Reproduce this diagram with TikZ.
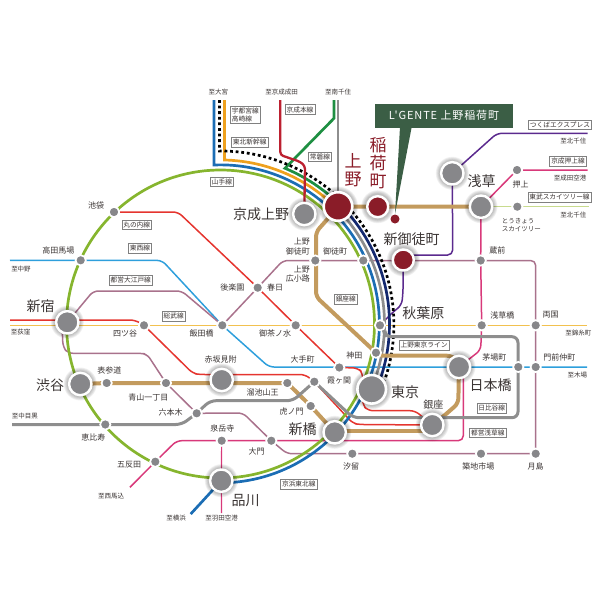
\documentclass[tikz,border=0pt]{standalone}
\usepackage{fontspec}
\setmainfont{Noto Sans CJK JP}
\newfontfamily\bannerfont[LetterSpace=8]{Noto Sans CJK JP}
\pgfdeclarelayer{lines}
\pgfdeclarelayer{glow}
\pgfsetlayers{lines,glow,main}
\definecolor{stgray}{HTML}{87878A}
\definecolor{wine}{HTML}{8A1C28}
\definecolor{txt}{HTML}{3A3433}
\definecolor{yama}{HTML}{86B52E}
\definecolor{kehin}{HTML}{1B6DB4}
\definecolor{utsu}{HTML}{EFA11E}
\definecolor{joban}{HTML}{1E8F42}
\definecolor{navy}{HTML}{14296F}
\definecolor{hibi}{HTML}{8E8E8E}
\definecolor{maru}{HTML}{E5352F}
\definecolor{chuo}{HTML}{F2C14F}
\definecolor{tozai}{HTML}{2E9FDC}
\definecolor{oedo}{HTML}{A9728C}
\definecolor{asak}{HTML}{D8397A}
\definecolor{ginz}{HTML}{C39B5E}
\definecolor{keis}{HTML}{BC2030}
\definecolor{tx}{HTML}{5B2A8E}
\definecolor{tobu}{HTML}{C8DB8E}
\definecolor{bann}{HTML}{3B5E45}
\tikzset{
  smallst/.style={circle,fill=stgray,draw=white,line width=1.7pt,minimum size=10.3pt,inner sep=0pt},
  bigst/.style={circle,fill=stgray,draw=white,line width=2.4pt,minimum size=22.4pt,inner sep=0pt},
  hugest/.style={circle,fill=stgray,draw=white,line width=2.6pt,minimum size=28.6pt,inner sep=0pt},
  redst/.style={bigst,fill=wine},
  thin line/.style={line width=1.5pt},
  fat line/.style={line width=2.7pt},
  stname/.style={inner sep=0pt,text=txt,font=\fontsize{8}{9.5}\selectfont,align=center},
  bigname/.style={inner sep=0pt,text=txt,font=\fontsize{14}{16}\selectfont},
  dest/.style={inner sep=0pt,text=txt,font=\fontsize{6.5}{7.5}\selectfont},
  linebox/.style={draw=gray,line width=.6pt,fill=white,text=txt,inner xsep=1.5pt,inner ysep=1.3pt,
     minimum height=9.8pt,font=\fontsize{6.7}{8}\selectfont,align=left},
  redname/.style={inner sep=0pt,text=wine,font=\fontsize{17}{19}\selectfont}
}
\newcounter{lb}
\newcommand\stn[3]{\stepcounter{lb}\node[stname] (t\number\value{lb}) at (#1,#2) {#3};}
\newcommand\bign[3]{\stepcounter{lb}\node[bigname] (t\number\value{lb}) at (#1,#2) {#3};}
\newcommand\dst[3]{\stepcounter{lb}\node[dest] (t\number\value{lb}) at (#1,#2) {#3};}
\newcommand\lbx[3]{\stepcounter{lb}\node[linebox] (t\number\value{lb}) at (#1,#2) {#3};}
\begin{document}
\begin{tikzpicture}[x=1pt,y=-1pt]
\useasboundingbox (0,0) rectangle (600,600);
\coordinate (ring) at (220.5,324);

% big stations
\node[hugest,fill=wine] (ueno) at (338,206.5) {};
\node[redst,minimum size=21pt] (inari) at (377.7,206.7) {};
\node[redst,minimum size=21pt] (shinoka) at (403.3,260) {};
\node[bigst] (keisei) at (304.3,214) {};
\node[bigst] (asakusa) at (452.3,173.3) {};
\node[bigst] (asakusab) at (481,206.7) {};
\node[bigst] (shinjuku) at (67.3,322.3) {};
\node[bigst] (shibuya) at (80.3,384) {};
\node[bigst] (akasaka) at (221.7,380) {};
\node[bigst] (shimbashi) at (334.7,432.3) {};
\node[hugest] (tokyo) at (371.7,389.3) {};
\node[bigst] (ginza) at (432.3,425) {};
\node[bigst] (nihombashi) at (459,367) {};
\node[bigst] (shinagawa) at (221.3,480.7) {};
% small stations
\node[smallst] (ikebukuro) at (114,212) {};
\node[smallst] (takada) at (80.7,260.3) {};
\node[smallst] (yotsuya) at (144,325.3) {};
\node[smallst] (omote) at (106.7,383) {};
\node[smallst] (aoyama) at (166,383) {};
\node[smallst] (roppongi) at (196.7,413.3) {};
\node[smallst] (ebisu) at (105.3,424.5) {};
\node[smallst] (gotanda) at (155.3,461.7) {};
\node[smallst] (sengaku) at (221.7,440.7) {};
\node[smallst] (daimon) at (271.3,440.7) {};
\node[smallst] (shiodome) at (352.3,453.7) {};
\node[smallst] (torano) at (310.7,406) {};
\node[smallst] (kasumi) at (314.3,381.7) {};
\node[smallst] (tameike) at (287.3,383) {};
\node[smallst] (otemachi) at (339.3,367.5) {};
\node[smallst] (kanda) at (376,352.7) {};
\node[smallst] (akiba) at (380,325.3) {};
\node[smallst] (ochano) at (295.7,325.3) {};
\node[smallst] (iidabashi) at (222.3,325.3) {};
\node[smallst] (kasuga) at (257.7,287.7) {};
\node[smallst] (uenookachi) at (315.3,260.5) {};
\node[smallst] (okachi) at (363.3,260.5) {};
\node[smallst] (kuramae) at (480.7,260.5) {};
\node[smallst] (oshiage) at (517,170) {};
\node[smallst] (skytree) at (517.3,206.7) {};
\node[smallst] (asabashi) at (481.7,325.3) {};
\node[smallst] (ryogoku) at (535.7,325.3) {};
\node[smallst] (kayaba) at (518.3,367) {};
\node[smallst] (monzen) at (535.7,367) {};
\node[smallst] (tsukiji) at (481,453.7) {};
\node[smallst] (tsukishima) at (535.7,453.7) {};

% free ends
\coordinate (eOgikubo) at (10,320);
\coordinate (eOgikuboY) at (10,325.3);
\coordinate (eNakano) at (10,260.4);
\coordinate (eKinshi) at (587,325.3);
\coordinate (eKiba) at (587,367);
\coordinate (eNaka) at (12,424.5);
\coordinate (eMago) at (130,487.3);
\coordinate (eHaneda) at (221.5,513);
\coordinate (eYoko) at (190.7,514);
\coordinate (eTx) at (587.7,133.3);
\coordinate (eOshi) at (587.7,170);
\coordinate (eTobu) at (589,206.7);

\begin{pgfonlayer}{lines}
% thin lines
\draw[thin line,chuo] (eOgikuboY) -- (yotsuya.center) -- (iidabashi.center) -- (ochano.center) -- (akiba.center) -- (asabashi.center) -- (ryogoku.center) -- (eKinshi);
\draw[thin line,tozai,rounded corners=5pt] (eNakano) -- (takada.center) -- (162,260.4) -- (iidabashi.center) -- (269,367) -- (kayaba.center) -- (monzen.center) -- (eKiba);
\draw[thin line,oedo,rounded corners=5pt] (shinjuku.center) -- (93.3,291) -- (181.7,291) -- (iidabashi.center);
\draw[thin line,oedo,rounded corners=5pt] (iidabashi.center) -- (kasuga.center) -- (283,260.5) -- (uenookachi.center) -- (okachi.center) -- (kuramae.center) -- (535.7,260.5) -- (ryogoku.center) -- (monzen.center) -- (tsukishima.center) -- (tsukiji.center) -- (shiodome.center) -- (287,453.7) -- (daimon.center);
\draw[thin line,oedo,rounded corners=5pt] (daimon.center) -- (243,413) -- (roppongi.center) -- (aoyama.center) -- (147,354) -- (140,353.3) -- (68,353.3) -- (63,347) -- (62,325);
\draw[thin line,asak,rounded corners=5pt] (eMago) -- (gotanda.center) -- (176.7,440.7) -- (sengaku.center) -- (daimon.center) -- (463.3,440.7) -- (463.3,367);
\draw[thin line,asak,rounded corners=5pt] (nihombashi.center) -- (480.7,350) -- (asabashi.center) -- (kuramae.center) -- (asakusab.center);
\draw[thin line,asak,rounded corners=5pt] (asakusab.center) -- (oshiage.center) -- (eOshi);
\draw[thin line,asak,line width=1.2pt] (sengaku.center) -- (shinagawa.center) -- (eHaneda);
\draw[thin line,tobu] (asakusab.center) -- (skytree.center) -- (eTobu);
\draw[thin line,tx,rounded corners=5pt] (eTx) -- (497,133.3) -- (asakusa.center) -- (452.7,255) -- (403,255);
\draw[thin line,tx,rounded corners=5pt] (shinoka.center) -- (403,292) -- (401.7,305) -- (392,313) -- (akiba.center);
\draw[thin line,maru,rounded corners=5pt] (ikebukuro.center) -- (178,212) -- (kasuga.center) -- (ochano.center) -- (otemachi.center) -- (358,368) -- (362.7,373) -- (362.7,405) -- (368,410.7) -- (415,410.7) -- (ginza.center);
\draw[thin line,maru,rounded corners=5pt] (eOgikubo) -- (135,320) -- (yotsuya.center) -- (193,373.5) -- (200,374.5) -- (305,374.5) -- (kasumi.center) -- (353,423.5) -- (360,424.5) -- (ginza.center);
% ring
\draw[fat line,yama] (ring) circle[radius=154];
\draw[fat line,kehin] (214,100) -- (214,165) arc[start angle=-92.3,end angle=90,radius=159] -- (shinagawa.center) -- (eYoko);
\draw[fat line,utsu] (224.5,100) -- (224.5,160) arc[start angle=-88.6,end angle=-45,radius=164];
\draw[fat line,hibi] (338,100) -- (ueno.center);
\draw[fat line,hibi] ([shift={(ring)}]-45:164) arc[start angle=-45,end angle=23,radius=164];
\draw[fat line,navy] ([shift={(ring)}]-45:169) arc[start angle=-45,end angle=18.7,radius=169];
\draw[fat line,joban] (334,100) -- (334,118.3) -- (285,168.3) arc[start angle=-67.5,end angle=-45,radius=169];
\draw[fat line,black,dash pattern=on 2.8pt off 2.8pt] (219.5,100) -- (219.5,151) arc[start angle=-90.3,end angle=18.7,radius=173.5];
\draw[fat line,keis,line width=2.3pt,rounded corners=3pt] (280.3,100) -- (280.3,155) -- (300,161.7) -- (305,166) -- (keisei.center);
% Ginza line
\draw[line width=4pt,ginz] (shibuya.center) -- (omote.center) -- (aoyama.center) -- (tameike.center) -- (torano.center) -- (shimbashi.center);
\draw[line width=4pt,ginz] (336,430.7) -- (432.3,430.7);
\draw[line width=4pt,ginz,rounded corners=5pt] (ginza.center) -- (443,416.7) -- (458.3,403.3) -- (nihombashi.center);
\draw[line width=4pt,ginz,rounded corners=5pt] (nihombashi.center) -- (458.3,362) -- (452,355.7) -- (378,355.7) -- (kanda.center);
\draw[line width=4pt,ginz,rounded corners=5pt] (kanda.center) -- (316,296.7) -- (316,232) -- (326.7,220) -- (ueno.center);
\draw[line width=4pt,ginz] (ueno.center) -- (inari.center) -- (asakusab.center);
% Hibiya line
\draw[line width=3pt,hibi,rounded corners=6pt] (eNaka) -- (ebisu.center) -- (181.7,424.5) -- (roppongi.center);
\draw[line width=3pt,hibi,rounded corners=6pt] (roppongi.center) -- (210,400.7) -- (293,400.7) -- (kasumi.center);
\draw[line width=3pt,hibi,rounded corners=6pt] (kasumi.center) -- (353,417.7) -- (518,417.7) -- (518,336.7) -- (385,336.7) -- (385,331) -- (akiba.center);
\end{pgfonlayer}

\begin{pgfonlayer}{glow}
\foreach \n/\rr in {ueno/16,inari/12.5,shinoka/12.5,keisei/12.5,asakusa/12.5,asakusab/12.5,shinjuku/12.5,shibuya/12.5,akasaka/12.5,shimbashi/12.5,tokyo/16,ginza/12.5,nihombashi/12.5,shinagawa/12.5}{
  \foreach \d in {1,2,3,4,5}{
    \fill[black,opacity=.055] (\n) circle[radius=\rr+\d*.8];
  }
}
\end{pgfonlayer}

% target
\fill[bann] (375,103.5) rectangle (512.7,127.5);
\fill[bann] (400,127) -- (411.7,127) -- (395,214) -- cycle;
\node[circle,fill=wine,inner sep=0pt,minimum size=9pt] (site) at (395,219) {};
\node[inner sep=0pt,text=white,font=\bannerfont\fontsize{11}{13}\selectfont] (banner) at (444,115.5) {L'GENTE 上野稲荷町};

% destinations
\dst{218.3}{91.7}{至大宮}
\dst{281.7}{91.7}{至京成成田}
\dst{338}{91.7}{至南千住}
\dst{573.3}{141}{至北千住}
\dst{570}{177.7}{至成田空港}
\dst{573.3}{215}{至北千住}
\dst{21}{269.3}{至中野}
\dst{20.7}{332.3}{至荻窪}
\dst{25}{416}{至中目黒}
\dst{111}{495.7}{至西馬込}
\dst{176}{518.3}{至横浜}
\dst{221.7}{518.3}{至羽田空港}
\dst{578.3}{333.3}{至錦糸町}
\dst{577.3}{375}{至木場}

% line boxes
\lbx{245.3}{114.5}{宇都宮線\\高崎線}
\lbx{300}{109.5}{京成本線}
\lbx{249.7}{142}{東北新幹線}
\lbx{320}{156.7}{常磐線}
\lbx{222}{181.7}{山手線}
\lbx{560}{124.7}{つくばエクスプレス}
\lbx{568}{161}{京成押上線}
\lbx{559.5}{197.3}{東武スカイツリー線}
\lbx{136.7}{224.7}{丸の内線}
\lbx{140}{248}{東西線}
\lbx{130.8}{280.3}{都営大江戸線}
\lbx{173.7}{316.3}{総武線}
\lbx{298.8}{484}{京浜東北線}
\lbx{345.8}{299}{銀座線}
\lbx{424}{345.3}{上野東京ライン}
\lbx{491.7}{408}{日比谷線}
\lbx{487.8}{432.7}{都営浅草線}

% vertical red names
\node[redname] (uA) at (353,161) {上};
\node[redname] (uB) at (353,179.5) {野};
\node[redname] (iA) at (378,145) {稲};
\node[redname] (iB) at (378,163) {荷};
\node[redname] (iC) at (378,181) {町};

% big names
\bign{261}{214.3}{京成上野}
\bign{411.5}{239}{新御徒町}
\bign{481.7}{180.7}{浅草}
\bign{40.7}{306.7}{新宿}
\bign{50}{385.3}{渋谷}
\bign{245.7}{500.7}{品川}
\bign{302.7}{429.3}{新橋}
\bign{423.3}{313.3}{秋葉原}
\bign{405}{391.7}{東京}
\bign{490.7}{385}{日本橋}

% station names
\stn{520.7}{184.3}{押上}
\stn{497.3}{250.7}{蔵前}
\stn{96}{205}{池袋}
\stn{58.3}{250.7}{高田馬場}
\stn{125}{334}{四ツ谷}
\stn{201.7}{333.3}{飯田橋}
\stn{109.3}{370}{表参道}
\stn{148.3}{397.3}{青山一丁目}
\stn{170.7}{412.3}{六本木}
\stn{93.3}{437.3}{恵比寿}
\stn{129}{464.7}{五反田}
\stn{222.3}{428.3}{泉岳寺}
\stn{256.7}{451.7}{大門}
\stn{232.3}{287.7}{後楽園}
\stn{275}{287.7}{春日}
\stn{275}{333.3}{御茶ノ水}
\stn{220.7}{359.3}{赤坂見附}
\stn{262.7}{392.3}{溜池山王}
\stn{302.7}{359}{大手町}
\stn{354.3}{355}{神田}
\stn{339}{380.7}{霞ヶ関}
\stn{291.7}{411.3}{虎ノ門}
\stn{351}{466.7}{汐留}
\stn{335}{251.7}{御徒町}
\stn{433.3}{405}{\fontsize{10}{11}\selectfont 銀座}
\stn{494.3}{357.7}{茅場町}
\stn{478.3}{466.7}{築地市場}
\stn{535.7}{466.7}{月島}
\stn{502.3}{315}{浅草橋}
\stn{550.7}{315}{両国}
\stn{559.3}{357.3}{門前仲町}
\stepcounter{lb}\node[stname,anchor=east,align=right] (t\number\value{lb}) at (310,246.5) {上野\\御徒町};
\stepcounter{lb}\node[stname,anchor=east,align=right] (t\number\value{lb}) at (310,274) {上野\\広小路};
\stepcounter{lb}\node[stname,anchor=west,align=left,font=\fontsize{6.5}{8.5}\selectfont] (t\number\value{lb}) at (501.7,225) {とうきょう\\スカイツリー};
\end{tikzpicture}
\end{document}
